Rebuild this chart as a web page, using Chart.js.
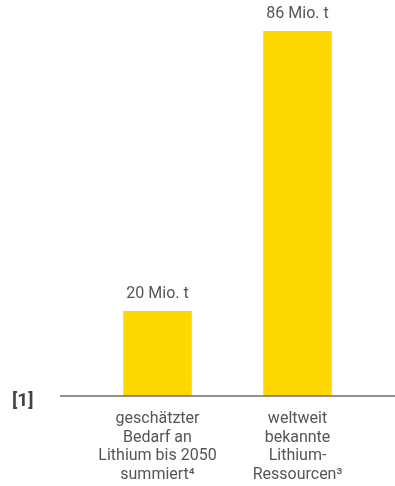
<!DOCTYPE html>
<html>
<head>
<meta charset="utf-8">
<script src="https://cdn.jsdelivr.net/npm/chart.js@4.4.0/dist/chart.umd.min.js"></script>
<style>
  html, body { margin: 0; padding: 0; background: #fff; }
  #wrap { width: 395px; height: 486px; position: relative; }
</style>
</head>
<body>
<div id="wrap"><canvas id="myChart" width="395" height="486"></canvas></div>
<script>
var categories = [
  ["geschätzter", "Bedarf an", "Lithium bis 2050", "summiert⁴"],
  ["weltweit", "bekannte", "Lithium-", "Ressourcen³"]
];
var values = [20, 86];
var valueLabels = ["20 Mio. t", "86 Mio. t"];
var refLabel = "[1]";
var barColor = "#ffd700";

// draws baseline, value labels, category labels and the [1] marker
var extras = {
  id: "extras",
  afterDatasetsDraw: function (chart) {
    var ctx = chart.ctx;
    var x = chart.scales.x, y = chart.scales.y;
    var base = y.getPixelForValue(0);
    ctx.save();
    ctx.strokeStyle = "#6b6b6b";
    ctx.lineWidth = 1.4;
    ctx.beginPath();
    ctx.moveTo(60, base);
    ctx.lineTo(chart.width, base);
    ctx.stroke();

    ctx.textAlign = "center";
    ctx.textBaseline = "middle";
    ctx.fillStyle = "#555";
    ctx.font = "16px Roboto";
    var meta = chart.getDatasetMeta(0);
    meta.data.forEach(function (bar, i) {
      ctx.fillText(valueLabels[i], bar.x, bar.y - 17);
      categories[i].forEach(function (line, j) {
        ctx.fillText(line, x.getPixelForTick(i), base + 23 + j * 18.7);
      });
    });

    ctx.font = "bold 19px Roboto";
    ctx.fillStyle = "#444";
    ctx.textAlign = "left";
    ctx.fillText(refLabel, 12, base + 5);
    ctx.restore();
  }
};

new Chart("myChart", {
  type: "bar",
  data: {
    labels: categories,
    datasets: [{
      data: values,
      backgroundColor: barColor,
      categoryPercentage: 1,
      barPercentage: 0.49
    }]
  },
  options: {
    responsive: false,
    animation: false,
    layout: { padding: { left: 87.5, right: 27.5, top: 14, bottom: 90 } },
    plugins: { legend: { display: false }, tooltip: { enabled: false } },
    scales: {
      x: { display: false },
      y: { display: false, min: 0, max: 90 }
    }
  },
  plugins: [extras]
});
</script>
</body>
</html>
